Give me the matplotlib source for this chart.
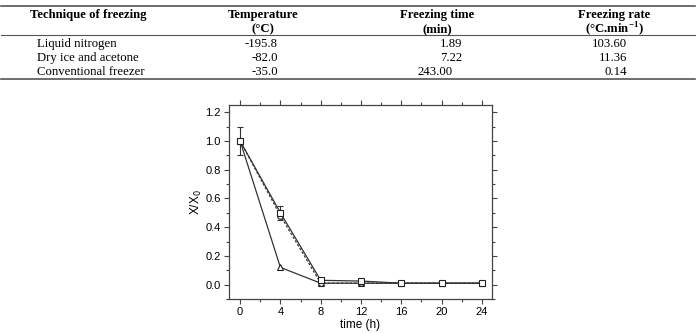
import matplotlib.pyplot as plt
from matplotlib.ticker import MultipleLocator

# table data
headers = [("Technique of freezing", ""), ("Temperature", "(°C)"),
           ("Freezing time", "(min)"), ("Freezing rate", r"(°C.min$^{\mathregular{-1}}$)")]
techniques = ["Liquid nitrogen", "Dry ice and acetone", "Conventional freezer"]
temperature = ["-195.8", "-82.0", "-35.0"]
freeze_time = ["1.89", "7.22", "243.00"]
freeze_rate = ["103.60", "11.36", "0.14"]

# chart data
time_h = [0, 4, 8, 12, 16, 20, 24]
x_triangle = [1.0, 0.12, 0.01, 0.01, 0.01, 0.01, 0.01]
x_square = [1.0, 0.50, 0.03, 0.025, 0.01, 0.01, 0.01]
err_square = [0.1, 0.05, 0.01, 0.01, 0.005, 0.005, 0.005]
x_circle = [1.0, 0.48, 0.01, 0.01, 0.01, 0.01, 0.01]

W, H = 696, 333
fig = plt.figure(figsize=(W / 100, H / 100), dpi=100)

def fx(px):
    return px / W

def fy(py):
    return 1 - py / H

serif = "Liberation Serif"
fs = 9.2
for yy, lw in [(6, 1.2), (35, 0.8), (79, 1.2)]:
    fig.add_artist(plt.Line2D([fx(1), fx(695)], [fy(yy), fy(yy)], color="#555555", lw=lw))

hx = [88, 263, 437, 614]
for x, (h1, h2) in zip(hx, headers):
    fig.text(fx(x), fy(15), h1, ha="center", va="center", family=serif, weight="bold", fontsize=fs)
    if h2:
        fig.text(fx(x), fy(29), h2, ha="center", va="center", family=serif, weight="bold", fontsize=fs)

# cell anchor x (right edge) per column
col_right = [[278, 278, 278], [462, 462, 453], [627, 627, 627]]
for i in range(3):
    yy = fy(44 + 14 * i)
    fig.text(fx(37), yy, techniques[i], ha="left", va="center", family=serif, fontsize=fs)
    fig.text(fx(col_right[0][i]), yy, temperature[i], ha="right", va="center", family=serif, fontsize=fs)
    fig.text(fx(col_right[1][i]), yy, freeze_time[i], ha="right", va="center", family=serif, fontsize=fs)
    fig.text(fx(col_right[2][i]), yy, freeze_rate[i], ha="right", va="center", family=serif, fontsize=fs)

# chart
plt.rcParams["font.family"] = "Liberation Sans"
ax = fig.add_axes([fx(229), fy(299), fx(492) - fx(229), fy(105) - fy(299)])

mk = dict(color="#333333", lw=0.9, ms=4, mfc="white", mec="#222222", mew=0.8)
ax.plot(time_h, x_triangle, marker="^", **mk)
ax.errorbar(time_h, x_square, yerr=err_square, marker="s", capsize=2.5,
            elinewidth=0.8, capthick=0.8, **mk)
ax.plot(time_h, x_circle, ls=(0, (2, 1.5)), marker="o", **mk)

ax.set_xlim(-1.1, 25)
ax.set_ylim(-0.1, 1.25)
ax.xaxis.set_major_locator(MultipleLocator(4))
ax.xaxis.set_minor_locator(MultipleLocator(2))
ax.yaxis.set_major_locator(MultipleLocator(0.2))
ax.yaxis.set_minor_locator(MultipleLocator(0.1))
ax.yaxis.set_major_formatter(plt.FormatStrFormatter("%.1f"))
ax.tick_params(which="both", direction="out", top=True, right=True, labelsize=8,
               color="#444444", width=0.8, pad=2.5)
ax.tick_params(which="major", length=3.5)
ax.tick_params(which="minor", length=2)
for s in ax.spines.values():
    s.set_color("#444444")
    s.set_linewidth(0.9)
ax.set_xlabel("time (h)", fontsize=8.5, labelpad=1.5)
ax.set_ylabel("X/X$_0$", fontsize=8.5, labelpad=1)

fig.savefig("out.png", dpi=100)
